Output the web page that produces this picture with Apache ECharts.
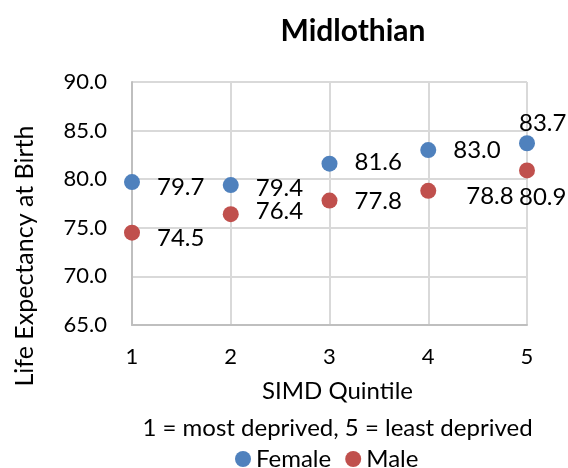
<!DOCTYPE html>
<html>
<head>
<meta charset="utf-8">
<script src="https://cdn.jsdelivr.net/npm/echarts@6/dist/echarts.min.js"></script>
<style>html,body{margin:0;padding:0;background:#fff;}#c{width:568px;height:468px;}</style>
</head>
<body>
<div id="c"></div>
<script>
var quintiles = [1, 2, 3, 4, 5];
var female = [79.7, 79.4, 81.6, 83.0, 83.7];
var male = [74.5, 76.4, 77.8, 78.8, 80.9];
var yTicks = [65, 70, 75, 80, 85, 90];
// label nudges (layout only)
var femaleLabelShift = [[0, 5], [0, 3], [0, -1], [0, 0], [-33, -20]];
var maleLabelShift = [[0, 6], [0, -3], [0, 1], [13, 5], [-33, 27]];

var FONT = 'Lato';
function build(vals, shifts) {
  return quintiles.map(function (q, i) {
    return { value: [q, vals[i]], label: { offset: shifts[i] } };
  });
}
var chart = echarts.init(document.getElementById('c'));
chart.setOption({
  animation: false,
  textStyle: { fontFamily: FONT },
  title: {
    text: 'Midlothian', top: 11, left: 348, textAlign: 'center',
    textStyle: { fontFamily: FONT, fontWeight: 'bold', fontSize: 30, color: '#000' }
  },
  legend: {
    top: 442, left: 230, icon: 'circle', itemWidth: 16, itemHeight: 16, itemGap: 14,
    textStyle: { fontFamily: FONT, fontSize: 24, color: '#000' },
    data: ['Female', 'Male']
  },
  graphic: [{
    type: 'text', x: 25, y: 256, rotation: Math.PI / 2,
    style: { text: 'Life Expectancy at Birth', fontFamily: FONT, fontSize: 25, fill: '#000',
      textAlign: 'center', textVerticalAlign: 'middle' }
  }],
  grid: { left: 132, right: 41, top: 82, bottom: 143 },
  xAxis: {
    type: 'value', min: 1, max: 5, interval: 1,
    name: 'SIMD Quintile\n1 = most deprived, 5 = least deprived',
    nameLocation: 'middle', nameGap: 45,
    nameTextStyle: { fontFamily: FONT, fontSize: 24, color: '#000', lineHeight: 37, padding: [0, 0, 0, 16] },
    axisLine: { show: true, lineStyle: { color: '#bfbfbf', width: 2 } },
    axisTick: { show: false },
    axisLabel: { fontFamily: FONT, fontSize: 22, color: '#000', margin: 21 },
    splitLine: { show: true, lineStyle: { color: '#d9d9d9', width: 2 } }
  },
  yAxis: {
    type: 'value', min: yTicks[0], max: yTicks[yTicks.length - 1], interval: 5,
    axisLine: { show: true, lineStyle: { color: '#bfbfbf', width: 2 } },
    axisTick: { show: false },
    axisLabel: { fontFamily: FONT, fontSize: 22, color: '#000', margin: 25,
      formatter: function (v) { return v.toFixed(1); } },
    splitLine: { show: true, lineStyle: { color: '#d9d9d9', width: 2 } }
  },
  series: [
    {
      name: 'Female', type: 'scatter', symbolSize: 16, data: build(female, femaleLabelShift),
      itemStyle: { color: '#4f81bd', opacity: 1 },
      label: { show: true, position: 'right', distance: 17, fontFamily: FONT, fontSize: 24, color: '#000',
        formatter: function (p) { return p.value[1].toFixed(1); } }
    },
    {
      name: 'Male', type: 'scatter', symbolSize: 16, data: build(male, maleLabelShift),
      itemStyle: { color: '#c0504d', opacity: 1 },
      label: { show: true, position: 'right', distance: 17, fontFamily: FONT, fontSize: 24, color: '#000',
        formatter: function (p) { return p.value[1].toFixed(1); } }
    }
  ]
});
</script>
</body>
</html>
